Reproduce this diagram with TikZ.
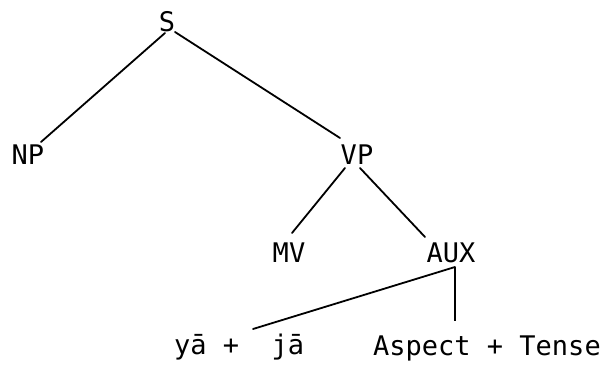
\documentclass[tikz,border=0pt]{standalone}
\usepackage{fontspec}
\setmainfont{DejaVu Sans Mono}
\begin{document}
\begin{tikzpicture}[x=1pt,y=-1pt,
  lbl/.style={inner sep=0pt,anchor=base,font=\fontsize{27}{29}\selectfont},
  branch/.style={line width=1.8pt,line cap=round}]
\useasboundingbox (0,0) rectangle (606,366);
% labels
\node[lbl] (S) at (167,32) {S};
\node[lbl] (NP) at (28,165) {NP};
\node[lbl] (VP) at (357,165) {VP};
\node[lbl] (MV) at (289,263) {MV};
\node[lbl] (AUX) at (451,263) {AUX};
\node[lbl,anchor=base west] (YJ) at (174,355) {yā +\ \ jā};
\node[lbl,anchor=base west] (AT) at (373,356) {Aspect + Tense};
% branch endpoints
\coordinate (sL) at (165,33);
\coordinate (sR) at (175,32);
\coordinate (npT) at (41,142);
\coordinate (vpT) at (340,138);
\coordinate (vpL) at (345,168);
\coordinate (vpR) at (360,168);
\coordinate (mvT) at (292,233);
\coordinate (auxT) at (425,237);
\coordinate (auxB) at (455,267);
\coordinate (yjT) at (253,329);
\coordinate (atT) at (455,321);
% branches
\draw[branch] (sL) -- (npT);
\draw[branch] (sR) -- (vpT);
\draw[branch] (vpL) -- (mvT);
\draw[branch] (vpR) -- (auxT);
\draw[branch] (auxB) -- (yjT);
\draw[line width=1.1pt] (auxB) -- (atT);
\end{tikzpicture}
\end{document}
